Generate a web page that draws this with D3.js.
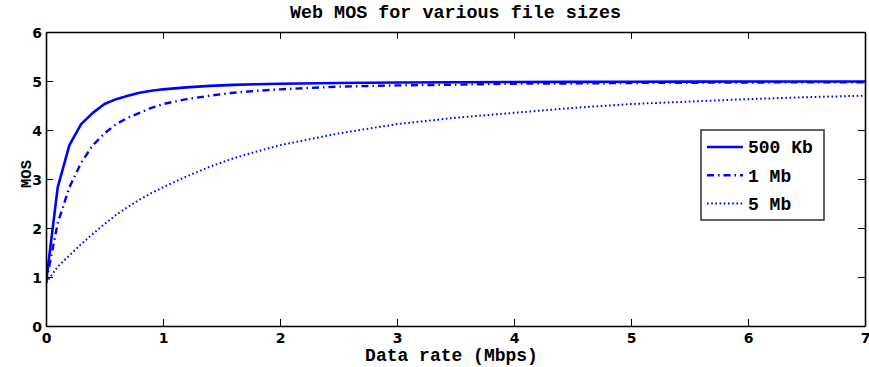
<!DOCTYPE html>
<html>
<head>
<meta charset="utf-8">
<script src="https://cdn.jsdelivr.net/npm/d3@7"></script>
<style>
  body { margin: 0; background: #fff; }
  svg { display: block; }
</style>
</head>
<body>
<div id="chart"></div>
<script>
// data rate (Mbps) sample points
const rates = [0, 0.1, 0.2, 0.3, 0.4, 0.5, 0.6, 0.7, 0.8, 0.9, 1, 1.2, 1.4, 1.6, 1.8, 2, 2.5, 3, 3.5, 4, 4.5, 5, 5.5, 6, 6.5, 7];

// MOS
const mos500Kb = [0.88, 2.83, 3.69, 4.12, 4.35, 4.53, 4.63, 4.70, 4.76, 4.80, 4.83, 4.87, 4.90, 4.92, 4.935, 4.945, 4.96, 4.97, 4.975, 4.98, 4.982, 4.985, 4.987, 4.99, 4.99, 4.99];
const mos1Mb   = [0.88, 2.10, 2.83, 3.33, 3.69, 3.93, 4.12, 4.25, 4.35, 4.45, 4.53, 4.63, 4.70, 4.76, 4.80, 4.83, 4.885, 4.91, 4.925, 4.945, 4.95, 4.96, 4.965, 4.97, 4.973, 4.975];
const mos5Mb   = [0.88, 1.21, 1.44, 1.67, 1.88, 2.08, 2.27, 2.43, 2.58, 2.71, 2.83, 3.05, 3.25, 3.42, 3.56, 3.69, 3.93, 4.12, 4.25, 4.35, 4.45, 4.53, 4.58, 4.63, 4.67, 4.70];

const seriesNames = ["500 Kb", "1 Mb", "5 Mb"];
const xTicks = [0, 1, 2, 3, 4, 5, 6, 7];
const yTicks = [0, 1, 2, 3, 4, 5, 6];

const width = 869, height = 367;
const margin = {top: 32, right: 4, bottom: 41, left: 46};
const monoFont = "'Liberation Mono', 'Courier New', monospace";
const sansFont = "'DejaVu Sans', sans-serif";

const series = [
  {name: seriesNames[0], values: mos500Kb, dash: null, w: 2.6},
  {name: seriesNames[1], values: mos1Mb, dash: "7,4,1.5,4", w: 2.4},
  {name: seriesNames[2], values: mos5Mb, dash: "1.6,2.6", w: 2}
];

const x = d3.scaleLinear().domain([0, 7]).range([margin.left, width - margin.right]);
const y = d3.scaleLinear().domain([0, 6]).range([height - margin.bottom, margin.top]);

const svg = d3.select("#chart").append("svg")
    .attr("width", width)
    .attr("height", height);

// series lines (clipped to the axes box)
svg.append("clipPath").attr("id", "plot")
  .append("rect")
    .attr("x", x(0)).attr("y", y(6))
    .attr("width", x(7) - x(0)).attr("height", y(0) - y(6));

const line = d3.line()
    .x((d, i) => x(rates[i]))
    .y(d => y(d));

svg.append("g")
    .attr("clip-path", "url(#plot)")
  .selectAll("path")
  .data(series)
  .join("path")
    .attr("d", d => line(d.values))
    .attr("fill", "none")
    .attr("stroke", "#0000ff")
    .attr("stroke-width", d => d.w)
    .attr("stroke-dasharray", d => d.dash)
    .attr("stroke-linejoin", "round");

// axes: ticks pointing inward on all four sides
const tickLen = 7;
const fmt = d3.format("d");
const axBottom = svg.append("g")
    .attr("transform", `translate(0,${y(0)})`)
    .call(d3.axisBottom(x).tickValues(xTicks).tickFormat(fmt).tickSize(-tickLen).tickPadding(7).tickSizeOuter(0));
const axTop = svg.append("g")
    .attr("transform", `translate(0,${y(6)})`)
    .call(d3.axisTop(x).tickValues(xTicks).tickSize(-tickLen).tickFormat("").tickSizeOuter(0));
const axLeft = svg.append("g")
    .attr("transform", `translate(${x(0)},0)`)
    .call(d3.axisLeft(y).tickValues(yTicks).tickFormat(fmt).tickSize(-tickLen).tickPadding(4).tickSizeOuter(0));
const axRight = svg.append("g")
    .attr("transform", `translate(${x(7)},0)`)
    .call(d3.axisRight(y).tickValues(yTicks).tickSize(-tickLen).tickFormat("").tickSizeOuter(0));

[axBottom, axTop, axLeft, axRight].forEach(g => {
  g.select(".domain").attr("stroke", "#000").attr("stroke-width", 1.6);
  g.selectAll(".tick line").attr("stroke", "#000").attr("stroke-width", 1);
  g.selectAll("text")
    .attr("fill", "#000")
    .attr("font-family", sansFont)
    .attr("font-weight", "bold")
    .attr("font-size", 14);
});
axLeft.selectAll("text").attr("dy", "0.36em");

// title and axis labels
svg.append("text")
    .attr("x", (x(0) + x(7)) / 2)
    .attr("y", 18)
    .attr("text-anchor", "middle")
    .attr("font-family", monoFont)
    .attr("font-weight", "bold")
    .attr("font-size", 18.4)
    .text("Web MOS for various file sizes");

svg.append("text")
    .attr("x", (x(0) + x(7)) / 2 - 4)
    .attr("y", 361)
    .attr("text-anchor", "middle")
    .attr("font-family", monoFont)
    .attr("font-weight", "bold")
    .attr("font-size", 18)
    .text("Data rate (Mbps)");

svg.append("text")
    .attr("transform", `translate(31,${(y(0) + y(6)) / 2 - 5}) rotate(-90)`)
    .attr("text-anchor", "middle")
    .attr("font-family", monoFont)
    .attr("font-weight", "bold")
    .attr("font-size", 15.5)
    .text("MOS");

// legend
const legend = svg.append("g").attr("transform", "translate(701,130)");
legend.append("rect")
    .attr("width", 123).attr("height", 90)
    .attr("fill", "#fff")
    .attr("stroke", "#222")
    .attr("stroke-width", 1.4);

const row = legend.selectAll("g.row")
  .data(series)
  .join("g")
    .attr("class", "row")
    .attr("transform", (d, i) => `translate(0,${17 + i * 28.3})`);

row.append("line")
    .attr("x1", 6).attr("x2", 42)
    .attr("stroke", "#0000ff")
    .attr("stroke-width", d => d.w)
    .attr("stroke-dasharray", d => d.dash);

row.append("text")
    .attr("x", 47)
    .attr("dy", "0.35em")
    .attr("font-family", monoFont)
    .attr("font-weight", "bold")
    .attr("font-size", 18)
    .text(d => d.name);
</script>
</body>
</html>
